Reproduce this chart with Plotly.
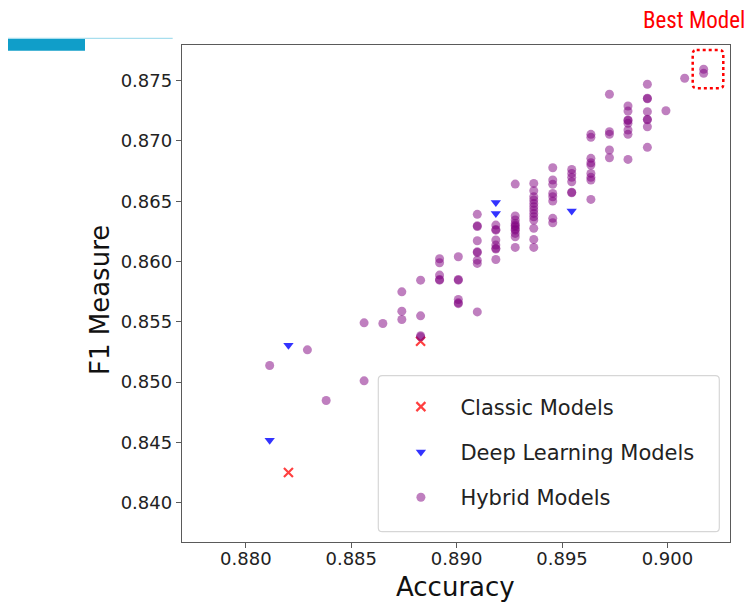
import plotly.graph_objects as go

# ---------------- data ----------------
classic_acc = [0.88202, 0.88829]
classic_f1 = [0.84249, 0.85339]

deep_acc = [0.88113, 0.88202, 0.89186, 0.89186, 0.89546]
deep_f1 = [0.84517, 0.85306, 0.86490, 0.86399, 0.86418]

hybrid_acc = (
    [0.88113] + [0.88292] + [0.88381] + [0.88561] * 2 + [0.88650]
    + [0.88740] * 3 + [0.88829] * 4 + [0.88919] * 5 + [0.89008] * 6
    + [0.89098] * 9 + [0.89186] * 8 + [0.89278] * 11 + [0.89366] * 13
    + [0.89456] * 8 + [0.89546] * 6 + [0.89637] * 9 + [0.89725] * 5
    + [0.89813] * 8 + [0.89905] * 8 + [0.89993] + [0.90082] + [0.90172] * 2
)
hybrid_f1 = (
    [0.85137]
    + [0.85267]
    + [0.84847]
    + [0.85491, 0.85010]
    + [0.85486]
    + [0.85748, 0.85588, 0.85519]
    + [0.85845, 0.85549, 0.85385, 0.85375]
    + [0.86023, 0.85990, 0.85887, 0.85851, 0.85845]
    + [0.86039, 0.85851, 0.85845, 0.85685, 0.85657, 0.85650]
    + [0.86391, 0.86296, 0.86290, 0.86172, 0.86080, 0.86075, 0.86011, 0.85984, 0.85582]
    + [0.86302, 0.86266, 0.86260, 0.86178, 0.86136, 0.86109, 0.86103, 0.86017]
    + [0.86642, 0.86377, 0.86344, 0.86316, 0.86300, 0.86288, 0.86270, 0.86260, 0.86233, 0.86205, 0.86117]
    + [0.86648, 0.86587, 0.86537, 0.86510, 0.86482, 0.86454, 0.86427, 0.86399, 0.86371, 0.86344, 0.86275, 0.86183, 0.86117]
    + [0.86778, 0.86676, 0.86640, 0.86565, 0.86537, 0.86501, 0.86358, 0.86321]
    + [0.86764, 0.86731, 0.86698, 0.86662, 0.86574, 0.86570]
    + [0.87055, 0.87030, 0.86856, 0.86819, 0.86800, 0.86731, 0.86698, 0.86676, 0.86515]
    + [0.87387, 0.87077, 0.87055, 0.86925, 0.86861]
    + [0.87290, 0.87248, 0.87174, 0.87170, 0.87146, 0.87091, 0.87055, 0.86847]
    + [0.87470, 0.87354, 0.87350, 0.87243, 0.87180, 0.87175, 0.87118, 0.86947]
    + [0.87251]
    + [0.87520]
    + [0.87595, 0.87561]
)

x_ticks = [0.880, 0.885, 0.890, 0.895, 0.900]
y_ticks = [0.840, 0.845, 0.850, 0.855, 0.860, 0.865, 0.870, 0.875]
x_range = [0.87697, 0.90297]
y_range = [0.83673, 0.87796]

# ---------------- layout helpers ----------------
# the page body has an 8px margin, so the figure is drawn 8px in from the window corner
OFF = 8
W, H = 755 - OFF, 602 - OFF
ML, MR, MT, MB = 174, 25, 37, 60
PW, PH = W - ML - MR, H - MT - MB


def px(x):
    """screen x pixel -> paper coordinate"""
    return (x - OFF - ML) / PW


def py(y):
    """screen y pixel -> paper coordinate"""
    return (H - MB - (y - OFF)) / PH


def rounded_rect(x0, y0, x1, y1, r):
    rx, ry = r / PW, r / PH
    X0, X1 = px(x0), px(x1)
    Y0, Y1 = py(y0), py(y1)  # Y0 top (larger), Y1 bottom
    return (
        f"M{X0+rx},{Y0} L{X1-rx},{Y0} Q{X1},{Y0} {X1},{Y0-ry} "
        f"L{X1},{Y1+ry} Q{X1},{Y1} {X1-rx},{Y1} "
        f"L{X0+rx},{Y1} Q{X0},{Y1} {X0},{Y1+ry} "
        f"L{X0},{Y0-ry} Q{X0},{Y0} {X0+rx},{Y0} Z"
    )


FONT = "DejaVu Sans, Liberation Sans, sans-serif"

fig = go.Figure()
fig.add_trace(go.Scatter(
    x=classic_acc, y=classic_f1, mode="markers", name="Classic Models",
    legendgroup="a",
    marker=dict(symbol="x-thin", size=9, color="red", opacity=0.75,
                line=dict(color="red", width=2.2)),
))
fig.add_trace(go.Scatter(
    x=deep_acc, y=deep_f1, mode="markers", name="Deep Learning Models",
    legendgroup="b",
    marker=dict(symbol="triangle-down", size=9, color="blue", opacity=0.8,
                line=dict(width=0)),
))
fig.add_trace(go.Scatter(
    x=hybrid_acc, y=hybrid_f1, mode="markers", name="Hybrid Models",
    legendgroup="c",
    marker=dict(symbol="circle", size=9, color="purple", opacity=0.5,
                line=dict(width=0)),
))

shapes = [
    # legend box
    dict(type="path", xref="paper", yref="paper", layer="above",
         path=rounded_rect(378.3, 375.7, 719.3, 531.7, 4),
         fillcolor="rgba(255,255,255,0.8)", line=dict(color="#d6d6d6", width=1.2)),
    # best model dotted box
    dict(type="path", xref="paper", yref="paper", layer="above",
         path=rounded_rect(692.7, 50, 723.3, 88.3, 4),
         line=dict(color="red", width=2.5, dash="dot")),
    # slide decorations top-left
    dict(type="rect", xref="paper", yref="paper", layer="above",
         x0=px(6), x1=px(85), y0=py(50.7), y1=py(39),
         fillcolor="#109ec9", line=dict(width=0)),
    dict(type="line", xref="paper", yref="paper", layer="above",
         x0=px(6), x1=px(172.7), y0=py(38.3), y1=py(38.3),
         line=dict(color="#92d6ea", width=1)),
]

fig.update_layout(
    template="none",
    width=W, height=H,
    margin=dict(l=ML, r=MR, t=MT, b=MB, autoexpand=False),
    paper_bgcolor="white", plot_bgcolor="white",
    font=dict(family=FONT, color="#222222"),
    shapes=shapes,
    showlegend=True,
    legend=dict(
        x=px(381.4), y=py(386.5), xanchor="left", yanchor="top",
        bgcolor="rgba(0,0,0,0)", borderwidth=0,
        font=dict(family=FONT, size=21, color="#222222"),
        itemwidth=69, traceorder="grouped", tracegroupgap=15,
    ),
    annotations=[
        dict(text="Best Model", xref="paper", yref="paper",
             x=px(746), y=py(20), xanchor="right", yanchor="middle",
             showarrow=False, borderpad=0,
             font=dict(family="Roboto Condensed, DejaVu Sans Condensed, Liberation Sans Narrow, Roboto",
                       size=23, color="red")),
        dict(text="Accuracy", xref="paper", yref="paper",
             x=px(455), y=py(587), xanchor="center", yanchor="middle",
             showarrow=False,
             font=dict(family=FONT, size=26, color="#111111")),
        dict(text="F1 Measure", xref="paper", yref="paper",
             x=px(100), y=py(300), xanchor="center", yanchor="middle",
             showarrow=False, textangle=-90,
             font=dict(family=FONT, size=26, color="#111111")),
    ],
)

axis_common = dict(
    showline=True, linecolor="#5a5a5a", linewidth=1.4, mirror=True,
    showgrid=False, zeroline=False, ticks="outside", ticklen=5,
    tickcolor="#5a5a5a", tickwidth=1.2, tickformat=".3f", automargin=False,
    tickfont=dict(family=FONT, size=18, color="#222222"),
)

fig.update_xaxes(range=x_range, tickvals=x_ticks, ticklabelstandoff=-5, **axis_common)
fig.update_yaxes(range=y_range, tickvals=y_ticks, **axis_common)

fig.write_html("out.html")
